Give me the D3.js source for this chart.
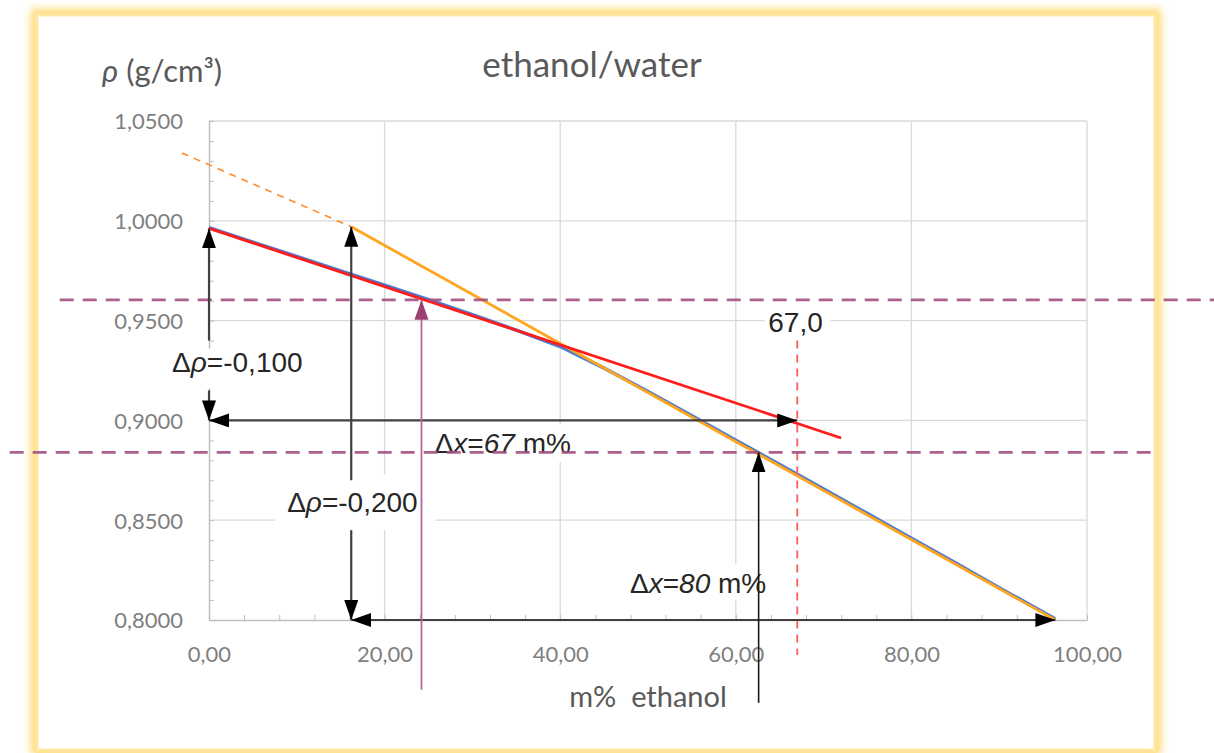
<!DOCTYPE html>
<html>
<head>
<meta charset="utf-8">
<script src="https://cdn.jsdelivr.net/npm/d3@7"></script>
<style>
  body { margin: 0; background: #fff; }
  svg { display: block; }
  .tick text { font-family: Lato, "Open Sans", sans-serif; }
</style>
</head>
<body>
<svg width="1214" height="753"></svg>
<script>
// Density of ethanol/water mixtures, with the two tangents used to read off
// partial slopes.

// measured curve (blue)
const massPct = [0, 5, 10, 15, 20, 25, 30, 35, 40, 45, 50, 55, 60, 65, 70, 75, 80, 85, 90, 96.4];
const density = [0.9966, 0.9893, 0.9821, 0.9749, 0.9677, 0.9605, 0.9530, 0.9452, 0.9370, 0.9262,
                 0.9145, 0.9023, 0.8901, 0.8779, 0.8656, 0.8533, 0.8410, 0.8287, 0.8162, 0.8005];

// tangent at pure water (red) and at the ethanol end (orange)
const waterTangent = [[0, 0.9962], [72, 0.8912]];
const ethanolTangent = [[16.2, 0.997], [96.4, 0.80]];
const ethanolTangentExt = [[-3.1, 1.034], [16.2, 0.997]];

// reading levels (purple dashed) and their horizontal extent in m%
const levels = [
  { rho: 0.9604, from: -17, to: 114.5 },
  { rho: 0.884, from: -22.7, to: 108 }
];

// cursor lines: purple at the upper level, black at the lower one
const cursors = [
  { x: 24.2, from: 0.765, to: 0.9604, color: 'purple' },
  { x: 62.6, from: 0.7585, to: 0.884, color: 'black' }
];

// Δρ arrows (vertical, broken for the label) and Δx arrows (horizontal)
const rhoArrows = [
  { x: 0, top: 0.9962, bottom: 0.90, gapTop: 0.940, gapBottom: 0.915 },
  { x: 16.2, top: 0.997, bottom: 0.80, gapTop: 0.870, gapBottom: 0.845 }
];
const xArrows = [
  { rho: 0.90, from: 0, to: 67 },
  { rho: 0.80, from: 16.2, to: 96.4 }
];
const markLine = { x: 67, from: 0.7825, to: 0.940, label: '67,0' };

const xTicks = [0, 20, 40, 60, 80, 100];
const yTicks = [0.80, 0.85, 0.90, 0.95, 1.00, 1.05];
const xMinor = d3.range(0, 101, 4);
const yMinor = d3.range(0.80, 1.0501, 0.01);

const title = 'ethanol/water';
const xTitle = 'm%  ethanol';

const svg = d3.select('svg');
const comma = d3.formatLocale({ decimal: ',', thousands: '.', grouping: [3], currency: ['', ''] });

const x = d3.scaleLinear().domain([0, 100]).range([209, 1087]);
const y = d3.scaleLinear().domain([0.80, 1.05]).range([620, 121]);

const defs = svg.append('defs');
defs.append('filter').attr('id', 'glow')
    .attr('x', '-5%').attr('y', '-5%').attr('width', '110%').attr('height', '110%')
  .append('feGaussianBlur').attr('stdDeviation', 4);

// arrow heads
[['blk', '#000'], ['pur', '#9c3f73']].forEach(([id, c]) => {
  defs.append('marker')
      .attr('id', id)
      .attr('markerUnits', 'userSpaceOnUse')
      .attr('markerWidth', 21).attr('markerHeight', 15)
      .attr('refX', 20).attr('refY', 7)
      .attr('orient', 'auto-start-reverse')
    .append('path')
      .attr('d', 'M0,0 L20,7 L0,14 Z')
      .attr('fill', c);
});

// frame with soft yellow glow
svg.append('rect')
    .attr('x', 37).attr('y', 15).attr('width', 1118).attr('height', 735)
    .attr('fill', 'none').attr('stroke', '#ffd970').attr('stroke-width', 12)
    .attr('filter', 'url(#glow)');
svg.append('rect')
    .attr('x', 37).attr('y', 15).attr('width', 1118).attr('height', 735)
    .attr('fill', '#fff').attr('stroke', '#ffe7a3').attr('stroke-width', 3);

// grid
const grid = svg.append('g').attr('stroke', '#d9d9d9').attr('stroke-width', 1.3);
grid.selectAll('.gy').data(yTicks.slice(1)).enter().append('line')
    .attr('x1', x(0)).attr('x2', x(100))
    .attr('y1', (d) => y(d)).attr('y2', (d) => y(d));
grid.selectAll('.gx').data(xTicks.slice(1)).enter().append('line')
    .attr('x1', (d) => x(d)).attr('x2', (d) => x(d))
    .attr('y1', y(0.80)).attr('y2', y(1.05));

// axes
const axisColor = '#bfbfbf';
const yAxis = svg.append('g')
    .attr('transform', `translate(${x(0)},0)`)
    .call(d3.axisLeft(y).tickValues(yTicks).tickSize(0).tickPadding(26)
      .tickFormat(comma.format('.4f')));
const xAxis = svg.append('g')
    .attr('transform', `translate(0,${y(0.80)})`)
    .call(d3.axisBottom(x).tickValues(xTicks).tickSize(0).tickPadding(26)
      .tickFormat(comma.format('.2f')));
[yAxis, xAxis].forEach((g) => {
  g.select('.domain').attr('stroke', axisColor).attr('stroke-width', 1.5);
  g.selectAll('text').attr('font-size', 22).attr('fill', '#7f7f7f');
});
yAxis.selectAll('text').attr('dy', '0.36em');
xAxis.selectAll('text').attr('dy', '0.72em');

// minor ticks pointing into the plot
svg.append('g').attr('transform', `translate(${x(0)},0)`)
    .call(d3.axisRight(y).tickValues(yMinor).tickSize(5).tickFormat(''))
    .call((g) => g.select('.domain').remove())
    .selectAll('line').attr('stroke', axisColor);
svg.append('g').attr('transform', `translate(0,${y(0.80)})`)
    .call(d3.axisTop(x).tickValues(xMinor).tickSize(5).tickFormat(''))
    .call((g) => g.select('.domain').remove())
    .selectAll('line').attr('stroke', axisColor);

// titles
svg.append('text')
    .attr('x', 592).attr('y', 77)
    .attr('text-anchor', 'middle')
    .attr('font-family', 'Lato, sans-serif').attr('font-size', 35).attr('fill', '#595959')
    .text(title);
const yt = svg.append('text')
    .attr('x', 102).attr('y', 82)
    .attr('font-family', 'Lato, sans-serif').attr('font-size', 31).attr('fill', '#595959');
yt.append('tspan').attr('font-style', 'italic').text('ρ');
yt.append('tspan').text(' (g/cm³)');
svg.append('text')
    .attr('x', 648).attr('y', 707)
    .attr('text-anchor', 'middle')
    .attr('font-family', 'Lato, sans-serif').attr('font-size', 29).attr('fill', '#595959')
    .style('white-space', 'pre')
    .text(xTitle);

// curves
const line = d3.line().x((d) => x(d[0])).y((d) => y(d[1]));
svg.append('path')
    .attr('d', line(massPct.map((m, i) => [m, density[i]])))
    .attr('fill', 'none').attr('stroke', '#4a7bd0').attr('stroke-width', 3.5);
svg.append('path')
    .attr('d', line(ethanolTangent))
    .attr('fill', 'none').attr('stroke', '#ffa51f').attr('stroke-width', 2.8);
svg.append('path')
    .attr('d', line(ethanolTangentExt))
    .attr('fill', 'none').attr('stroke', '#ff8a2a').attr('stroke-width', 1.6)
    .attr('stroke-dasharray', '7,6');
svg.append('path')
    .attr('d', line(waterTangent))
    .attr('fill', 'none').attr('stroke', '#ff1c1c').attr('stroke-width', 2.8);

// annotation labels, on white boxes that hide the grid
const font = '"Liberation Sans", Arial, sans-serif';
const labels = [
  { x: -4.2, rho: 0.9243, box: [-4.8, 11.4, 0.936, 0.916], parts: [['Δ', ''], ['ρ', 'italic'], ['=-0,100', '']] },
  { x: 8.9, rho: 0.8541, box: [7.5, 25.8, 0.873, 0.845], parts: [['Δ', ''], ['ρ', 'italic'], ['=-0,200', '']] },
  { x: 25.7, rho: 0.8837, box: [25.0, 41.8, 0.898, 0.879], parts: [['Δ', ''], ['x', 'italic'], ['=', ''], ['67', 'italic'], [' m%', '']] },
  { x: 47.95, rho: 0.8135, box: [47.3, 64.3, 0.828, 0.810], parts: [['Δ', ''], ['x', 'italic'], ['=', ''], ['80', 'italic'], [' m%', '']] },
  { x: 63.7, rho: 0.9443, box: [63.3, 70.8, 0.957, 0.942], parts: [[markLine.label, '']] }
];
const lab = svg.append('g');
lab.selectAll('rect').data(labels).enter().append('rect')
    .attr('x', (d) => x(d.box[0])).attr('width', (d) => x(d.box[1]) - x(d.box[0]))
    .attr('y', (d) => y(d.box[2])).attr('height', (d) => y(d.box[3]) - y(d.box[2]))
    .attr('fill', '#fff');
lab.selectAll('text').data(labels).enter().append('text')
    .attr('x', (d) => x(d.x)).attr('y', (d) => y(d.rho))
    .attr('font-family', font).attr('font-size', 28).attr('fill', '#262626')
    .style('white-space', 'pre')
  .selectAll('tspan').data((d) => d.parts).enter().append('tspan')
    .attr('font-style', (p) => p[1] || null)
    .text((p) => p[0]);

// vertical red dashed marker at 67
svg.append('line')
    .attr('x1', x(markLine.x)).attr('x2', x(markLine.x))
    .attr('y1', y(markLine.to)).attr('y2', y(markLine.from))
    .attr('stroke', '#ff5c5c').attr('stroke-width', 1.8).attr('stroke-dasharray', '8,6');

// reading levels
svg.selectAll('.level').data(levels).enter().append('line')
    .attr('x1', (d) => x(d.from)).attr('x2', (d) => x(d.to))
    .attr('y1', (d) => y(d.rho)).attr('y2', (d) => y(d.rho))
    .attr('stroke', '#a3507f').attr('stroke-opacity', 0.9)
    .attr('stroke-width', 2.6).attr('stroke-dasharray', '14,9');

// arrows
const arr = svg.append('g').attr('stroke', '#404040').attr('stroke-width', 2.2);
rhoArrows.forEach((a) => {
  arr.append('line')
      .attr('x1', x(a.x)).attr('x2', x(a.x))
      .attr('y1', y(a.gapTop)).attr('y2', y(a.top))
      .attr('marker-end', 'url(#blk)');
  arr.append('line')
      .attr('x1', x(a.x)).attr('x2', x(a.x))
      .attr('y1', y(a.gapBottom)).attr('y2', y(a.bottom))
      .attr('marker-end', 'url(#blk)');
});
arr.selectAll('.xa').data(xArrows).enter().append('line')
    .attr('x1', (d) => x(d.from)).attr('x2', (d) => x(d.to))
    .attr('y1', (d) => y(d.rho)).attr('y2', (d) => y(d.rho))
    .attr('marker-start', 'url(#blk)').attr('marker-end', 'url(#blk)');
svg.selectAll('.cursor').data(cursors).enter().append('line')
    .attr('x1', (d) => x(d.x)).attr('x2', (d) => x(d.x))
    .attr('y1', (d) => y(d.from)).attr('y2', (d) => y(d.to))
    .attr('stroke', (d) => d.color === 'purple' ? '#b5679a' : '#1a1a1a')
    .attr('stroke-width', (d) => d.color === 'purple' ? 1.8 : 1.6)
    .attr('marker-end', (d) => d.color === 'purple' ? 'url(#pur)' : 'url(#blk)');
</script>
</body>
</html>
